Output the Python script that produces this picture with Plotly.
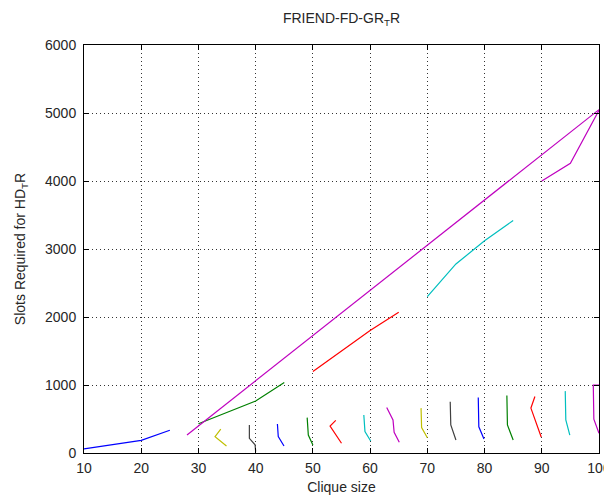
import plotly.graph_objects as go

# ---- data ----
main_blue_x = [10, 20, 25]
main_blue_y = [60, 185, 335]
main_green_x = [30, 40, 45]
main_green_y = [430, 765, 1035]
main_red_x = [50, 60, 65]
main_red_y = [1200, 1800, 2070]
main_cyan_x = [70, 75, 80, 85]
main_cyan_y = [2300, 2780, 3120, 3420]
main_mag_x = [90, 95, 100]
main_mag_y = [4000, 4260, 5040]
line_x = [28, 100]
line_y = [265, 5050]

w1_x = [33.9, 32.9, 34.9];          w1_y = [350, 240, 103]
w2_x = [38.9, 38.9, 39.9, 40.0];    w2_y = [410, 215, 120, 20]
w3_x = [43.8, 43.95, 44.95];        w3_y = [427, 240, 103]
w4_x = [49.0, 49.2, 50.0];          w4_y = [520, 265, 118]
w5_x = [54.0, 53.0, 55.0];          w5_y = [480, 395, 143]
w6_x = [58.9, 59.1, 60.1];          w6_y = [560, 315, 176]
w7_x = [62.9, 64.0, 64.2, 65.1];    w7_y = [670, 485, 304, 157]
w8_x = [68.9, 69.0, 70.0];          w8_y = [660, 375, 225]
w9_x = [74.0, 74.1, 75.0];          w9_y = [755, 412, 191]
w10_x = [78.9, 79.0, 79.9];         w10_y = [815, 385, 205]
w11_x = [83.9, 84.0, 85.0];         w11_y = [845, 412, 191]
w12_x = [88.8, 88.1, 89.9];         w12_y = [830, 660, 235]
w13_x = [94.1, 94.2, 94.9];         w13_y = [910, 488, 262]
w14_x = [100, 99.0, 99.1, 100];     w14_y = [1000, 1000, 497, 290]

x_ticks = [10, 20, 30, 40, 50, 60, 70, 80, 90, 100]
y_ticks = [0, 1000, 2000, 3000, 4000, 5000, 6000]

B = "rgb(0,0,255)"
G = "rgb(0,128,0)"
R = "rgb(255,0,0)"
C = "rgb(0,191,191)"
M = "rgb(191,0,191)"
Y = "rgb(191,191,0)"
K = "rgb(64,64,64)"

series = [
    (main_blue_x, main_blue_y, B),
    (main_green_x, main_green_y, G),
    (main_red_x, main_red_y, R),
    (main_cyan_x, main_cyan_y, C),
    (main_mag_x, main_mag_y, M),
    (line_x, line_y, M),
    (w1_x, w1_y, Y), (w2_x, w2_y, K), (w3_x, w3_y, B), (w4_x, w4_y, G),
    (w5_x, w5_y, R), (w6_x, w6_y, C), (w7_x, w7_y, M), (w8_x, w8_y, Y),
    (w9_x, w9_y, K), (w10_x, w10_y, B), (w11_x, w11_y, G), (w12_x, w12_y, R),
    (w13_x, w13_y, C), (w14_x, w14_y, M),
]

fig = go.Figure()
for xs, ys, col in series:
    fig.add_trace(go.Scatter(x=xs, y=ys, mode="lines",
                             line=dict(color=col, width=1.2),
                             showlegend=False, hoverinfo="skip"))

FONT = "Liberation Sans, Arial, sans-serif"
TXT = "#262626"
axis_common = dict(
    showline=True, linecolor="black", linewidth=1, mirror="ticks",
    ticks="inside", ticklen=5, tickcolor="black", tickwidth=1,
    showgrid=True, gridcolor="#333333", gridwidth=1, griddash="1px,3px",
    zeroline=False, tickfont=dict(family=FONT, size=14, color=TXT),
    automargin=False,
)

# page body has an 8px margin, so the figure is sized to fit the 612x499 window
W, H = 604, 491
fig.update_layout(
    width=W, height=H,
    margin=dict(l=76, r=13, t=37, b=46, autoexpand=False),
    paper_bgcolor="white", plot_bgcolor="white",
    font=dict(family=FONT, color=TXT),
    title=dict(text="FRIEND-FD-GR<sub>T</sub>R", x=(76 + 515 / 2) / W,
               xanchor="center", y=1 - 10 / H, yanchor="middle",
               font=dict(family=FONT, size=14, color=TXT)),
    xaxis=dict(range=[10, 100], tickvals=x_ticks, ticktext=[str(v) for v in x_ticks],
               ticklabelstandoff=2,
               title=dict(text="Clique size", standoff=7,
                          font=dict(family=FONT, size=14, color=TXT)),
               **axis_common),
    yaxis=dict(range=[0, 6000], tickvals=y_ticks, ticktext=[str(v) for v in y_ticks],
               ticklabelstandoff=4,
               title=dict(text="Slots Required for HD<sub>T</sub>R", standoff=16,
                          font=dict(family=FONT, size=14, color=TXT)),
               **axis_common),
)

fig.write_html("out.html")
